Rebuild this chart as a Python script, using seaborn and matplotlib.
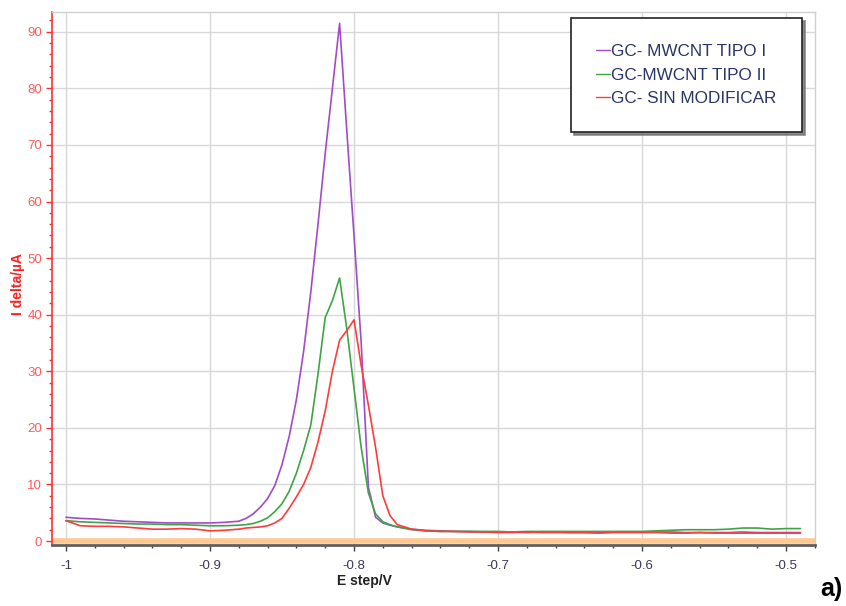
import numpy as np
import pandas as pd
import matplotlib
matplotlib.use("Agg")
import matplotlib.pyplot as plt
from matplotlib.lines import Line2D
from matplotlib.ticker import MultipleLocator
import seaborn as sns

# ---------------- data ----------------
E = [-1.00, -0.99, -0.98, -0.97, -0.96, -0.95, -0.94, -0.93, -0.92, -0.91,
     -0.90, -0.89, -0.88, -0.875, -0.87, -0.865, -0.86, -0.855, -0.85, -0.845,
     -0.84, -0.835, -0.83, -0.825, -0.82, -0.815, -0.81, -0.805, -0.80, -0.795,
     -0.79, -0.785, -0.78, -0.775, -0.77, -0.76, -0.75, -0.74, -0.73, -0.72,
     -0.71, -0.70, -0.69, -0.68, -0.67, -0.66, -0.65, -0.64, -0.63, -0.62,
     -0.61, -0.60, -0.59, -0.58, -0.57, -0.56, -0.55, -0.54, -0.53, -0.52,
     -0.51, -0.50, -0.49]

tipo_i = [4.2, 4.0, 3.9, 3.7, 3.5, 3.4, 3.3, 3.2, 3.2, 3.2,
          3.2, 3.3, 3.5, 4.0, 4.8, 6.0, 7.5, 9.8, 13.5, 18.5,
          25.0, 33.5, 44.0, 56.0, 68.5, 80.0, 91.5, 72.5, 54.0, 35.0,
          9.5, 4.2, 3.2, 2.8, 2.5, 2.1, 1.9, 1.8, 1.7, 1.7,
          1.6, 1.6, 1.6, 1.5, 1.6, 1.6, 1.5, 1.5, 1.5, 1.6,
          1.6, 1.6, 1.6, 1.6, 1.5, 1.5, 1.5, 1.5, 1.6, 1.5,
          1.5, 1.5, 1.5]

tipo_ii = [3.6, 3.4, 3.3, 3.2, 3.1, 3.0, 3.0, 2.9, 2.9, 2.8,
           2.7, 2.7, 2.8, 2.9, 3.1, 3.5, 4.1, 5.2, 6.6, 8.8,
           12.0, 16.0, 20.5, 29.5, 39.5, 42.5, 46.5, 37.5, 27.0, 16.5,
           8.5, 4.8, 3.4, 2.9, 2.5, 2.0, 1.8, 1.7, 1.7, 1.7,
           1.7, 1.7, 1.6, 1.7, 1.7, 1.7, 1.7, 1.7, 1.7, 1.7,
           1.7, 1.7, 1.8, 1.9, 2.0, 2.0, 2.0, 2.1, 2.3, 2.3,
           2.1, 2.2, 2.2]

sin_mod = [3.6, 2.7, 2.6, 2.6, 2.5, 2.3, 2.1, 2.1, 2.2, 2.1,
           1.8, 1.9, 2.1, 2.3, 2.4, 2.5, 2.7, 3.2, 4.0, 5.8,
           7.8, 10.0, 13.0, 17.5, 23.0, 30.0, 35.5, 37.2, 39.1, 31.0,
           24.0, 16.5, 8.0, 4.5, 2.9, 2.1, 1.8, 1.7, 1.7, 1.6,
           1.6, 1.5, 1.5, 1.6, 1.5, 1.5, 1.5, 1.5, 1.4, 1.5,
           1.5, 1.5, 1.5, 1.4, 1.4, 1.5, 1.4, 1.4, 1.4, 1.4,
           1.4, 1.4, 1.4]

series_names = ["GC- MWCNT TIPO I", "GC-MWCNT TIPO II", "GC- SIN MODIFICAR"]
series_colors = ["#a24bc8", "#3fa447", "#ff3b3b"]
baseline = 0.0

x_ticks = [-1.0, -0.9, -0.8, -0.7, -0.6, -0.5]
x_tick_labels = ["-1", "-0.9", "-0.8", "-0.7", "-0.6", "-0.5"]
y_ticks = [0, 10, 20, 30, 40, 50, 60, 70, 80, 90]

# ---------------- build table ----------------
frames = []
for name, vals in zip(series_names, [tipo_i, tipo_ii, sin_mod]):
    frames.append(pd.DataFrame({"E": E, "I": vals, "serie": name}))
df = pd.concat(frames, ignore_index=True)

# ---------------- plot ----------------
sns.set_theme(style="white")
plt.rcParams["font.family"] = ["Liberation Sans", "DejaVu Sans"]

W, H = 846, 606
fig = plt.figure(figsize=(W / 100, H / 100), dpi=100)
ax = fig.add_axes([52 / W, 1 - 545 / H, (815 - 52) / W, (545 - 12) / H])

ax.axhline(baseline, color="#ffc890", lw=4, zorder=1.5)

sns.lineplot(data=df, x="E", y="I", hue="serie", hue_order=series_names,
             palette=dict(zip(series_names, series_colors)), sort=False,
             estimator=None, lw=1.2, ax=ax, legend=False, zorder=3)

ax.set_xlim(-1.0097, -0.4799)
ax.set_ylim(-0.7, 93.5)

ax.grid(True, which="major", color="#d8d8d8", lw=1.0)
ax.set_axisbelow(True)

ax.set_xticks(x_ticks)
ax.set_xticklabels(x_tick_labels)
ax.set_yticks(y_ticks)
ax.xaxis.set_minor_locator(MultipleLocator(0.02))
ax.yaxis.set_minor_locator(MultipleLocator(2))

ax.tick_params(axis="x", which="major", direction="out", length=4, width=1,
               color="#404040", labelcolor="#3a3a55", labelsize=9.5, pad=7,
               bottom=True)
ax.tick_params(axis="x", which="minor", direction="out", length=2, width=1,
               color="#404040", bottom=True)
ax.tick_params(axis="y", which="major", direction="out", length=4, width=1,
               color="#ff3030", labelcolor="#ff5a5a", labelsize=9.5, pad=3,
               left=True)
ax.tick_params(axis="y", which="minor", direction="out", length=2, width=1,
               color="#ff3030", left=True)

for s in ["top", "right"]:
    ax.spines[s].set_color("#d0d0d0")
    ax.spines[s].set_linewidth(1.0)
ax.spines["left"].set_color("#ff3030")
ax.spines["left"].set_linewidth(1.2)
ax.spines["bottom"].set_color("#606060")
ax.spines["bottom"].set_linewidth(2.0)

ax.set_xlabel("E step/V", fontsize=10, fontweight="bold", color="#222222")
ax.xaxis.set_label_coords((364 - 52) / (815 - 52), -0.055)
ax.set_ylabel("I delta/µA", fontsize=10, fontweight="bold", color="#ff2020")
ax.yaxis.set_label_coords(-0.036, 0.49)

handles = [Line2D([0], [0], color=c, lw=1.0) for c in series_colors]
leg = ax.legend(handles, series_names, loc="upper right",
                bbox_to_anchor=((802 - 52) / (815 - 52), (545 - 18) / (545 - 12)),
                frameon=True, fancybox=False, shadow={"color": "#707070", "alpha": 0.8},
                handlelength=0.8, handletextpad=0.05, borderpad=1.5,
                labelspacing=0.52, fontsize=12.3, borderaxespad=0)
leg.get_frame().set_edgecolor("#222222")
leg.get_frame().set_linewidth(1.2)
for t in leg.get_texts():
    t.set_color("#2a3566")

fig.text(831 / W, 1 - 589 / H, "a)", fontsize=18, fontweight="bold",
         ha="center", va="center", color="black")

fig.savefig("out.png", dpi=100, facecolor="white")
